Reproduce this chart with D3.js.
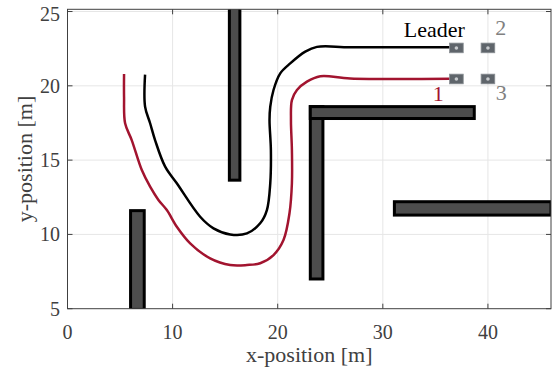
<!DOCTYPE html>
<html>
<head>
<meta charset="utf-8">
<script src="https://cdn.jsdelivr.net/npm/d3@7"></script>
<style>
  body { margin: 0; background: #fff; }
  text { font-family: "Liberation Serif", "DejaVu Serif", serif; }
</style>
</head>
<body>
<script>
// size of the page
var w = 554;
var h = 372;

// tick values
var xTicks = [0, 10, 20, 30, 40];
var yTicks = [5, 10, 15, 20, 25];

// leader path (black)
var leaderX = [7.38, 7.38, 7.86, 8.33, 9.29, 10.4, 12.62, 13.89, 15.48, 17.07, 18.33, 18.97, 19.29, 19.35, 19.22, 19.29, 19.6, 20.24, 21.19, 22.62, 23.73, 26.9, 36.4];
var leaderY = [20.75, 18.6, 17.48, 16.35, 14.56, 13.44, 11.19, 10.41, 10.0, 10.07, 10.75, 11.64, 13.44, 15.68, 17.7, 18.59, 19.72, 20.84, 21.51, 22.3, 22.62, 22.6, 22.6];

// follower 1 path (red)
var followX = [5.38, 5.38, 5.48, 6.11, 7.07, 7.86, 8.65, 9.45, 10.4, 11.67, 13.57, 15.48, 17.07, 18.33, 19.6, 20.55, 21.12, 21.35, 21.35, 21.26, 21.35, 21.83, 22.78, 24.05, 26.9, 36.4];
var followY = [20.8, 19.25, 17.48, 16.35, 14.33, 13.21, 12.32, 11.64, 10.52, 9.4, 8.39, 7.94, 7.94, 8.06, 8.61, 9.62, 11.42, 13.44, 15.68, 17.7, 19.04, 19.72, 20.28, 20.65, 20.5, 20.48];

// obstacles
var obsX0 = [15.4, 6.0, 23.1, 23.1, 31.1];
var obsX1 = [16.4, 7.3, 24.3, 38.7, 46.0];
var obsY0 = [13.65, 4.95, 7.0, 17.8, 11.3];
var obsY1 = [26.0, 11.6, 18.6, 18.6, 12.2];

// vehicles: leader, 2, 1, 3
var carX = [37.0, 40.0, 37.0, 40.0];
var carY = [22.55, 22.55, 20.46, 20.46];

// labels
var labelText = ["Leader", "2", "1", "3"];
var labelX = [37.8, 41.75, 35.8, 41.8];
var labelY = [23.3, 23.4, 18.95, 19.05];
var labelColor = ["#000", "#808080", "#A2142F", "#808080"];

var svg = d3.select("body").append("svg")
    .attr("width", w)
    .attr("height", h);

var x = d3.scaleLinear().domain([0, 46]).range([67.5, 551]);
var y = d3.scaleLinear().domain([5, 25.15]).range([308.7, 9.3]);

// grid
svg.append("g").selectAll("line").data(xTicks.slice(1)).enter().append("line")
    .attr("x1", d => x(d)).attr("x2", d => x(d))
    .attr("y1", y.range()[0]).attr("y2", y.range()[1])
    .style("stroke", "#e6e6e6");
svg.append("g").selectAll("line").data(yTicks.slice(1)).enter().append("line")
    .attr("y1", d => y(d)).attr("y2", d => y(d))
    .attr("x1", x.range()[0]).attr("x2", x.range()[1])
    .style("stroke", "#e6e6e6");

svg.append("clipPath").attr("id", "clip")
    .append("rect")
    .attr("x", x.range()[0]).attr("y", y.range()[1])
    .attr("width", x.range()[1] - x.range()[0])
    .attr("height", y.range()[0] - y.range()[1]);

var plot = svg.append("g").attr("clip-path", "url(#clip)");

// paths
var line = d3.line()
    .x(d => x(d[0]))
    .y(d => y(d[1]))
    .curve(d3.curveCatmullRom);

plot.append("path")
    .attr("d", line(followX.map((v, i) => [v, followY[i]])))
    .style("fill", "none")
    .style("stroke", "#A2142F")
    .style("stroke-width", 2.5);

plot.append("path")
    .attr("d", line(leaderX.map((v, i) => [v, leaderY[i]])))
    .style("fill", "none")
    .style("stroke", "#000")
    .style("stroke-width", 2.5);

// obstacles
plot.selectAll(".obs")
    .data(obsX0)
    .enter().append("rect")
    .attr("class", "obs")
    .attr("x", (d, i) => x(obsX0[i]))
    .attr("y", (d, i) => y(obsY1[i]))
    .attr("width", (d, i) => x(obsX1[i]) - x(obsX0[i]))
    .attr("height", (d, i) => y(obsY0[i]) - y(obsY1[i]))
    .style("fill", "#4d4d4d")
    .style("stroke", "#000")
    .style("stroke-width", 3);

// vehicles
var carW = 1.3, carH = 0.65;
var cars = plot.selectAll(".car")
    .data(carX)
    .enter().append("g")
    .attr("class", "car");
cars.append("rect")
    .attr("x", (d, i) => x(carX[i] - carW / 2))
    .attr("y", (d, i) => y(carY[i] + carH / 2))
    .attr("width", x(carW) - x(0))
    .attr("height", y(0) - y(carH))
    .style("fill", "#5f656b")
    .style("stroke", "#8a8f94")
    .style("stroke-width", 0.8);
cars.append("circle")
    .attr("cx", (d, i) => x(carX[i]))
    .attr("cy", (d, i) => y(carY[i]))
    .attr("r", 1.8)
    .style("fill", "#c8cbce");

// labels
svg.selectAll(".lbl")
    .data(labelText)
    .enter().append("text")
    .attr("class", "lbl")
    .attr("x", (d, i) => x(labelX[i]))
    .attr("y", (d, i) => y(labelY[i]))
    .attr("text-anchor", "end")
    .attr("font-size", "22px")
    .style("fill", (d, i) => labelColor[i])
    .text(d => d);

// frame + ticks
var axisColor = "#404040";
var tl = 5;
svg.append("rect")
    .attr("x", x.range()[0]).attr("y", y.range()[1])
    .attr("width", x.range()[1] - x.range()[0])
    .attr("height", y.range()[0] - y.range()[1])
    .style("fill", "none")
    .style("stroke", axisColor)
    .style("stroke-width", 1);

var xt = svg.append("g");
xTicks.forEach(function (t) {
    xt.append("line").attr("x1", x(t)).attr("x2", x(t))
        .attr("y1", y.range()[0]).attr("y2", y.range()[0] - tl)
        .style("stroke", axisColor);
    xt.append("line").attr("x1", x(t)).attr("x2", x(t))
        .attr("y1", y.range()[1]).attr("y2", y.range()[1] + tl)
        .style("stroke", axisColor);
    xt.append("text").attr("x", x(t)).attr("y", 339)
        .attr("text-anchor", "middle").attr("font-size", "20px")
        .style("fill", axisColor).text(t);
});
var yt = svg.append("g");
yTicks.forEach(function (t) {
    yt.append("line").attr("y1", y(t)).attr("y2", y(t))
        .attr("x1", x.range()[0]).attr("x2", x.range()[0] + tl)
        .style("stroke", axisColor);
    yt.append("line").attr("y1", y(t)).attr("y2", y(t))
        .attr("x1", x.range()[1]).attr("x2", x.range()[1] - tl)
        .style("stroke", axisColor);
    yt.append("text").attr("x", 60).attr("y", Math.max(y(t), 14) + 7)
        .attr("text-anchor", "end").attr("font-size", "20px")
        .style("fill", axisColor).text(t);
});

// axis labels
svg.append("text")
    .attr("x", (x.range()[0] + x.range()[1]) / 2)
    .attr("y", 362)
    .attr("text-anchor", "middle")
    .attr("font-size", "22px")
    .style("fill", axisColor)
    .text("x-position [m]");

svg.append("text")
    .attr("transform", "translate(32," + ((y.range()[0] + y.range()[1]) / 2) + ") rotate(-90)")
    .attr("text-anchor", "middle")
    .attr("font-size", "22px")
    .style("fill", axisColor)
    .text("y-position [m]");
</script>
</body>
</html>
